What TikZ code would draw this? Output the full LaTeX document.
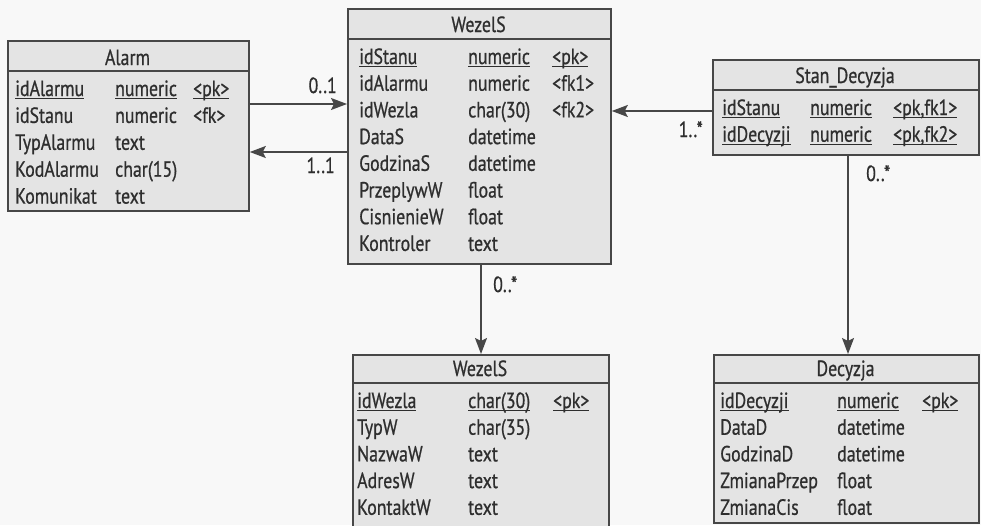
\documentclass[tikz,border=0pt]{standalone}
\usepackage{fontspec}
\setmainfont[FakeStretch=0.81,FakeBold=0.7]{PT Sans}
\usetikzlibrary{arrows.meta}
\definecolor{ink}{HTML}{2E2E2E}
\definecolor{boxfill}{HTML}{E4E4E4}
\definecolor{edge}{HTML}{474747}
\definecolor{paper}{HTML}{F8F8F8}
\newcommand\pkul[1]{\setbox0\hbox{#1}\rlap{\rule[-2.8pt]{\wd0}{0.9pt}}\box0}
\newcommand\rowfont{\fontsize{22}{24}\selectfont}
\begin{document}
\begin{tikzpicture}[x=1pt,y=-1pt,
  tbl/.style={draw=edge, line width=1.8pt, fill=boxfill, inner sep=0pt, anchor=north west},
  sepline/.style={draw=edge, line width=1.8pt},
  cell/.style={anchor=base west, inner sep=0pt, text=ink, font=\rowfont},
  head/.style={anchor=base, inner sep=0pt, text=ink, font=\rowfont},
  lbl/.style={anchor=base east, inner sep=0pt, text=ink, font=\rowfont},
  lblw/.style={anchor=base west, inner sep=0pt, text=ink, font=\rowfont},
  conn/.style={draw=edge, line width=1.5pt, -{Stealth[length=16pt,width=12pt,inset=3pt]}}]
\fill[paper] (0,0) rectangle (981,525);
\useasboundingbox (0,0) rectangle (981,525);

% ---------- Alarm ----------
\node[tbl, minimum width=241pt, minimum height=170pt] (alarm) at (7,40) {};
\draw[sepline] (alarm.west |- 0,71) -- (alarm.east |- 0,71);
\node[head] (alarmH) at (127.5,65) {Alarm};
\foreach \nm/\ty/\ky [count=\i] in {
  {\pkul{idAlarmu}}/{\pkul{numeric}}/{\pkul{<pk>}},
  {idStanu}/{numeric}/{<fk>},
  {TypAlarmu}/{text}/{},
  {KodAlarmu}/{char(15)}/{},
  {Komunikat}/{text}/{}} {
  \node[cell] (alarmN\i) at (15,{96+(\i-1)*26.9}) {\nm};
  \node[cell] (alarmT\i) at (115,{96+(\i-1)*26.9}) {\ty};
  \node[cell] (alarmK\i) at (193,{96+(\i-1)*26.9}) {\ky};
}

% ---------- WezelS (top) ----------
\node[tbl, minimum width=263pt, minimum height=255pt] (wez) at (347,8) {};
\draw[sepline] (wez.west |- 0,39) -- (wez.east |- 0,39);
\node[head] (wezH) at (478.5,32) {WezelS};
\foreach \nm/\ty/\ky [count=\i] in {
  {\pkul{idStanu}}/{\pkul{numeric}}/{\pkul{<pk>}},
  {idAlarmu}/{numeric}/{<fk1>},
  {idWezla}/{char(30)}/{<fk2>},
  {DataS}/{datetime}/{},
  {GodzinaS}/{datetime}/{},
  {PrzeplywW}/{float}/{},
  {CisnienieW}/{float}/{},
  {Kontroler}/{text}/{}} {
  \node[cell] (wezN\i) at (359,{64+(\i-1)*26.7}) {\nm};
  \node[cell] (wezT\i) at (468,{64+(\i-1)*26.7}) {\ty};
  \node[cell] (wezK\i) at (552,{64+(\i-1)*26.7}) {\ky};
}

% ---------- Stan_Decyzja ----------
\node[tbl, minimum width=266pt, minimum height=95pt] (stan) at (712,59) {};
\draw[sepline] (stan.west |- 0,90) -- (stan.east |- 0,90);
\node[head] (stanH) at (845,83) {Stan\_Decyzja};
\foreach \nm/\ty/\ky [count=\i] in {
  {\pkul{idStanu}}/{\pkul{numeric}}/{\pkul{<pk,fk1>}},
  {\pkul{idDecyzji}}/{\pkul{numeric}}/{\pkul{<pk,fk2>}}} {
  \node[cell] (stanN\i) at (722,{115+(\i-1)*26.7}) {\nm};
  \node[cell] (stanT\i) at (810,{115+(\i-1)*26.7}) {\ty};
  \node[cell] (stanK\i) at (893,{115+(\i-1)*26.7}) {\ky};
}

% ---------- WezelS (bottom) ----------
\node[tbl, minimum width=256pt, minimum height=180pt] (wezb) at (352,354) {};
\draw[sepline] (wezb.west |- 0,383) -- (wezb.east |- 0,383);
\node[head] (wezbH) at (480,376) {WezelS};
\foreach \nm/\ty/\ky [count=\i] in {
  {\pkul{idWezla}}/{\pkul{char(30)}}/{\pkul{<pk>}},
  {TypW}/{char(35)}/{},
  {NazwaW}/{text}/{},
  {AdresW}/{text}/{},
  {KontaktW}/{text}/{}} {
  \node[cell] (wezbN\i) at (357,{408+(\i-1)*26.7}) {\nm};
  \node[cell] (wezbT\i) at (468,{408+(\i-1)*26.7}) {\ty};
  \node[cell] (wezbK\i) at (553,{408+(\i-1)*26.7}) {\ky};
}

% ---------- Decyzja ----------
\node[tbl, minimum width=265pt, minimum height=168pt] (dec) at (713,354) {};
\draw[sepline] (dec.west |- 0,383) -- (dec.east |- 0,383);
\node[head] (decH) at (845.5,376) {Decyzja};
\foreach \nm/\ty/\ky [count=\i] in {
  {\pkul{idDecyzji}}/{\pkul{numeric}}/{\pkul{<pk>}},
  {DataD}/{datetime}/{},
  {GodzinaD}/{datetime}/{},
  {ZmianaPrzep}/{float}/{},
  {ZmianaCis}/{float}/{}} {
  \node[cell] (decN\i) at (720,{408+(\i-1)*26.7}) {\nm};
  \node[cell] (decT\i) at (837,{408+(\i-1)*26.7}) {\ty};
  \node[cell] (decK\i) at (922,{408+(\i-1)*26.7}) {\ky};
}

% ---------- connectors ----------
\coordinate (yA) at (0,104);
\coordinate (yB) at (0,152);
\coordinate (yC) at (0,111);
\coordinate (xD) at (481,0);
\coordinate (xE) at (848,0);
\draw[conn] (alarm.east |- yA) -- (wez.west |- yA);
\draw[conn] (wez.west |- yB) -- (alarm.east |- yB);
\draw[conn] (stan.west |- yC) -- (wez.east |- yC);
\draw[conn] (xD |- wez.south) -- (xD |- wezb.north);
\draw[conn] (xE |- stan.south) -- (xE |- dec.north);

\node[lbl] (l01) at (337,93) {0..1};
\node[lbl] (l11) at (335,173) {1..1};
\node[lbl] (l1s) at (703,137) {1..*};
\node[lblw] (l0sA) at (493,292) {0..*};
\node[lblw] (l0sB) at (866,181) {0..*};
\end{tikzpicture}
\end{document}
